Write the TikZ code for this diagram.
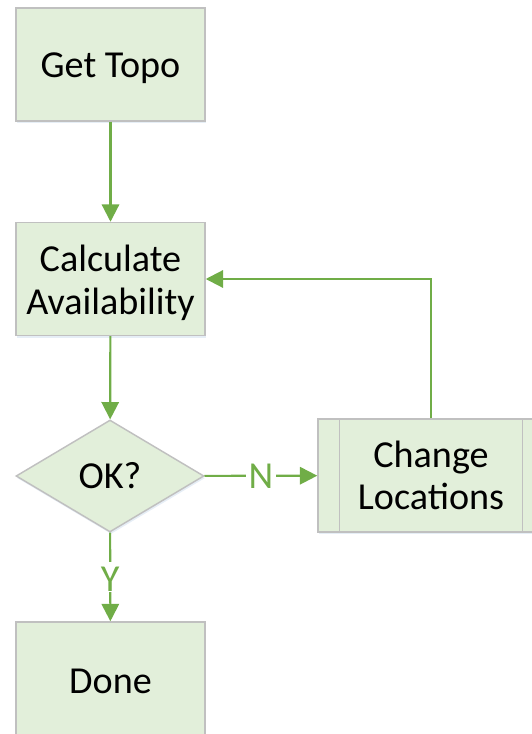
\documentclass[tikz,border=0pt]{standalone}
\usepackage{fontspec}
\setmainfont{Carlito}
\usetikzlibrary{shapes.geometric,arrows.meta,shadows}
\definecolor{boxfill}{HTML}{E2EFDA}
\definecolor{boxline}{HTML}{C0C0C0}
\definecolor{flow}{HTML}{70AD47}
\definecolor{shade}{HTML}{D6E2F0}
% lower a line of text without changing its box size
\newcommand{\lowered}[2]{\raisebox{-#1}[\height][\depth]{#2}}
\begin{document}
\begin{tikzpicture}[x=0.75pt,y=-0.75pt,
  font=\fontsize{28.6}{32}\selectfont,
  soft/.style={drop shadow={shadow xshift=0.8pt,shadow yshift=-1.6pt,fill=shade,opacity=0.6}},
  stepbox/.style={draw=boxline,line width=1.1pt,fill=boxfill,soft,
    minimum width=141.75pt,minimum height=84.75pt,inner sep=0pt,align=center},
  decide/.style={diamond,draw=boxline,line width=1.1pt,fill=boxfill,soft,
    minimum width=141pt,minimum height=84pt,inner sep=0pt,aspect=1.68},
  procbox/.style={stepbox,minimum width=169.5pt},
  flowline/.style={draw=flow,line width=1.6pt,-{Triangle[length=13pt,width=13pt]}},
  flowlabel/.style={text=flow,fill=white,inner sep=2pt}]
  \useasboundingbox (0,0) rectangle (531,734);

  \node[stepbox] (topo) at (110.5,64.5) {\lowered{3pt}{Get Topo}};
  \node[stepbox] (calc) at (110.5,279) {\lowered{3pt}{Calculate}\\\lowered{3pt}{Availability}};
  \node[decide] (ok) at (110,476) {OK?};
  \node[stepbox] (done) at (110.5,678.5) {\lowered{2pt}{Done}};
  \node[procbox] (change) at (431,475.5) {Change\\Locations};
  % inner side bars of the predefined-process box
  \draw[boxline,line width=1.1pt] ([xshift=16.5pt]change.north west) -- ([xshift=16.5pt]change.south west);
  \draw[boxline,line width=1.1pt] ([xshift=-16.5pt]change.north east) -- ([xshift=-16.5pt]change.south east);

  \draw[flowline] (topo) -- (calc);
  \draw[flowline] (calc) -- (ok);
  \draw[flowline] (ok) -- node[flowlabel] {N} (change);
  \draw[flowline] (ok) -- node[flowlabel] {\lowered{1.5pt}{Y}} (done);
  \draw[flowline] (change.north) |- (calc.east);
\end{tikzpicture}
\end{document}
